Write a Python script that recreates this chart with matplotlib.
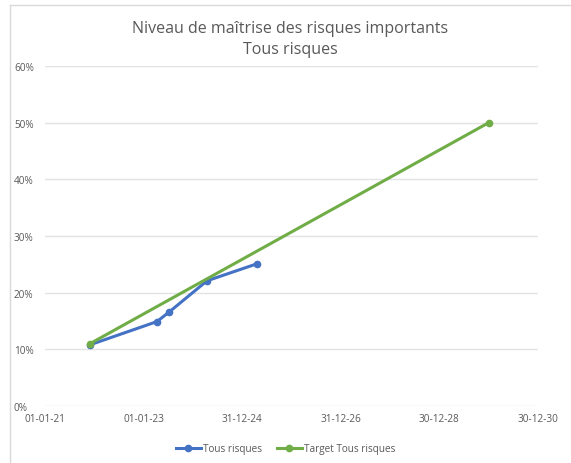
import matplotlib
matplotlib.use("Agg")
import matplotlib.pyplot as plt
import pandas as pd
from matplotlib.lines import Line2D

# Data
actual_dates = pd.to_datetime(["2021-11-30", "2023-04-10", "2023-07-10", "2024-04-15", "2025-04-20"])
actual_values = [0.108, 0.149, 0.166, 0.221, 0.251]
target_dates = pd.to_datetime(["2021-11-30", "2029-12-31"])
target_values = [0.11, 0.50]
tick_dates = pd.to_datetime(["2021-01-01", "2023-01-01", "2024-12-31", "2026-12-31", "2028-12-30", "2030-12-30"])
tick_labels = ["01-01-21", "01-01-23", "31-12-24", "31-12-26", "30-12-28", "30-12-30"]
y_ticks = [0, 0.1, 0.2, 0.3, 0.4, 0.5, 0.6]

text_col = "#595959"
grid_col = "#E3E3E3"

plt.rcParams["font.family"] = ["Open Sans", "DejaVu Sans"]

fig = plt.figure(figsize=(5.71, 4.64), dpi=100)
ax = fig.add_axes([0.0788, 0.1228, 0.8632, 0.7328])

ax.plot(actual_dates, actual_values, color="#4472C4", lw=2.2, marker="o", ms=4.5, label="Tous risques")
ax.plot(target_dates, target_values, color="#70AD47", lw=2.2, marker="o", ms=4.5, label="Target Tous risques")

ax.set_xlim(tick_dates[0], tick_dates[-1])
ax.set_ylim(0, 0.6)
ax.set_xticks(tick_dates)
ax.set_xticklabels(tick_labels)
ax.set_yticks(y_ticks)
ax.set_yticklabels([f"{int(round(v * 100))}%" for v in y_ticks])
ax.tick_params(length=0, labelsize=7.2, colors=text_col)
ax.tick_params(axis="x", pad=5)
ax.tick_params(axis="y", pad=0)
for lbl in ax.get_yticklabels():
    lbl.set_horizontalalignment("left")
    lbl.set_x(-0.063)
for s in ax.spines.values():
    s.set_visible(False)
ax.grid(axis="y", color=grid_col, lw=1)
ax.set_axisbelow(True)

fig.text(0.508, 0.937, "Niveau de maîtrise des risques importants", ha="center", va="center",
         fontsize=11.5, color=text_col)
fig.text(0.508, 0.893, "Tous risques", ha="center", va="center", fontsize=11.5, color=text_col)

fig.legend(loc="center", bbox_to_anchor=(0.5, 0.031), ncol=2, frameon=False, fontsize=7.2,
           labelcolor=text_col, handlelength=2.5, handletextpad=0.2, columnspacing=1.5)

# chart border (left and top visible)
fig.add_artist(Line2D([10 / 571, 10 / 571], [0, 1 - 6 / 464], color="#D9D9D9", lw=1))
fig.add_artist(Line2D([10 / 571, 1], [1 - 6 / 464, 1 - 6 / 464], color="#D9D9D9", lw=1))

fig.savefig("out.png", dpi=100, facecolor="white")
